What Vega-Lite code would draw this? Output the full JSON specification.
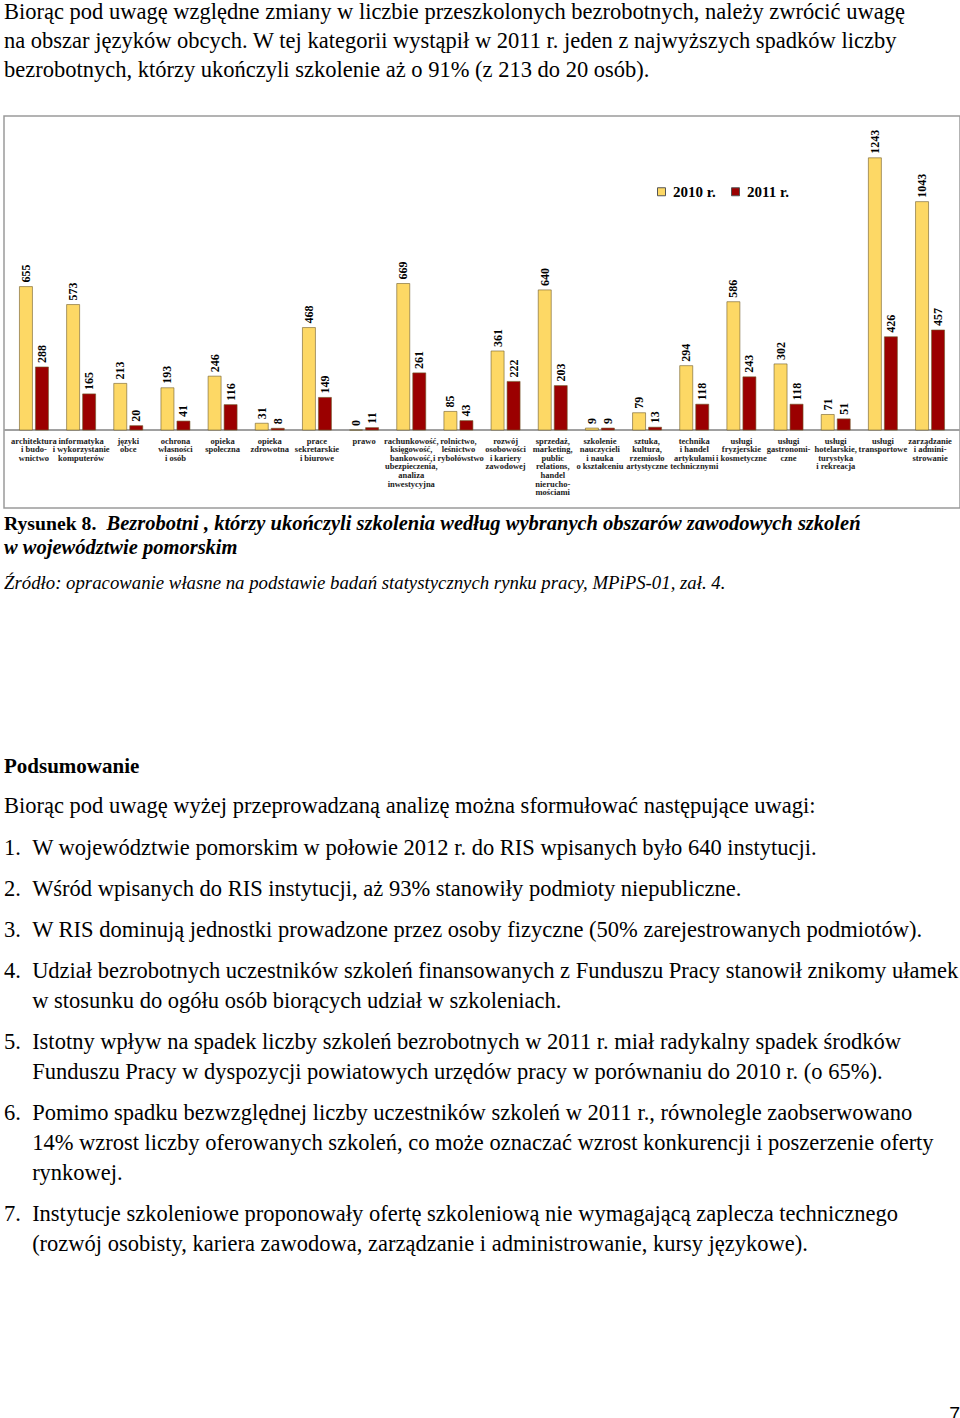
{
  "$schema": "https://vega.github.io/schema/vega-lite/v6.json",
  "padding": {"left": 2, "top": 0, "right": 0, "bottom": 0},
  "background": "white",
  "spacing": 0,
  "resolve": {"scale": {"xOffset": "independent", "color": "independent", "x": "independent", "y": "independent"}, "legend": {"color": "independent"}},
  "config": {
    "font": "Liberation Serif",
    "view": {"stroke": "#9a9a9a", "strokeWidth": 1.5},
    "title": {"font": "Liberation Serif", "color": "black", "anchor": "start", "frame": "group", "subtitleFont": "Liberation Serif", "subtitleColor": "black"}
  },
  "vconcat": [
    {
      "width": 956,
      "height": 392,
      "title": {
        "text": [
          "Biorąc pod uwagę względne zmiany w liczbie przeszkolonych bezrobotnych, należy zwrócić uwagę",
          "na obszar języków obcych. W tej kategorii wystąpił w 2011 r. jeden z najwyższych spadków liczby",
          "bezrobotnych, którzy ukończyli szkolenie aż o 91% (z 213 do 20 osób)."
        ],
        "orient": "top",
        "fontSize": 22.5,
        "fontWeight": "normal",
        "lineHeight": 29,
        "offset": 34.5
      },
      "data": {"values": [
        {"cat": "architektura i budownictwo", "rok": "2010 r.", "n": 655},
        {"cat": "architektura i budownictwo", "rok": "2011 r.", "n": 288},
        {"cat": "informatyka i wykorzystanie komputerów", "rok": "2010 r.", "n": 573},
        {"cat": "informatyka i wykorzystanie komputerów", "rok": "2011 r.", "n": 165},
        {"cat": "języki obce", "rok": "2010 r.", "n": 213},
        {"cat": "języki obce", "rok": "2011 r.", "n": 20},
        {"cat": "ochrona własności i osób", "rok": "2010 r.", "n": 193},
        {"cat": "ochrona własności i osób", "rok": "2011 r.", "n": 41},
        {"cat": "opieka społeczna", "rok": "2010 r.", "n": 246},
        {"cat": "opieka społeczna", "rok": "2011 r.", "n": 116},
        {"cat": "opieka zdrowotna", "rok": "2010 r.", "n": 31},
        {"cat": "opieka zdrowotna", "rok": "2011 r.", "n": 8},
        {"cat": "prace sekretarskie i biurowe", "rok": "2010 r.", "n": 468},
        {"cat": "prace sekretarskie i biurowe", "rok": "2011 r.", "n": 149},
        {"cat": "prawo", "rok": "2010 r.", "n": 0},
        {"cat": "prawo", "rok": "2011 r.", "n": 11},
        {"cat": "rachunkowość, księgowość, bankowość, ubezpieczenia, analiza inwestycyjna", "rok": "2010 r.", "n": 669},
        {"cat": "rachunkowość, księgowość, bankowość, ubezpieczenia, analiza inwestycyjna", "rok": "2011 r.", "n": 261},
        {"cat": "rolnictwo, leśnictwo i rybołówstwo", "rok": "2010 r.", "n": 85},
        {"cat": "rolnictwo, leśnictwo i rybołówstwo", "rok": "2011 r.", "n": 43},
        {"cat": "rozwój osobowości i kariery zawodowej", "rok": "2010 r.", "n": 361},
        {"cat": "rozwój osobowości i kariery zawodowej", "rok": "2011 r.", "n": 222},
        {"cat": "sprzedaż, marketing, public relations, handel nieruchomościami", "rok": "2010 r.", "n": 640},
        {"cat": "sprzedaż, marketing, public relations, handel nieruchomościami", "rok": "2011 r.", "n": 203},
        {"cat": "szkolenie nauczycieli i nauka o kształceniu", "rok": "2010 r.", "n": 9},
        {"cat": "szkolenie nauczycieli i nauka o kształceniu", "rok": "2011 r.", "n": 9},
        {"cat": "sztuka, kultura, rzemiosło artystyczne", "rok": "2010 r.", "n": 79},
        {"cat": "sztuka, kultura, rzemiosło artystyczne", "rok": "2011 r.", "n": 13},
        {"cat": "technika i handel artykułami technicznymi", "rok": "2010 r.", "n": 294},
        {"cat": "technika i handel artykułami technicznymi", "rok": "2011 r.", "n": 118},
        {"cat": "usługi fryzjerskie i kosmetyczne", "rok": "2010 r.", "n": 586},
        {"cat": "usługi fryzjerskie i kosmetyczne", "rok": "2011 r.", "n": 243},
        {"cat": "usługi gastronomiczne", "rok": "2010 r.", "n": 302},
        {"cat": "usługi gastronomiczne", "rok": "2011 r.", "n": 118},
        {"cat": "usługi hotelarskie, turystyka i rekreacja", "rok": "2010 r.", "n": 71},
        {"cat": "usługi hotelarskie, turystyka i rekreacja", "rok": "2011 r.", "n": 51},
        {"cat": "usługi transportowe", "rok": "2010 r.", "n": 1243},
        {"cat": "usługi transportowe", "rok": "2011 r.", "n": 426},
        {"cat": "zarządzanie i administrowanie", "rok": "2010 r.", "n": 1043},
        {"cat": "zarządzanie i administrowanie", "rok": "2011 r.", "n": 457}
      ]},
      "layer": [
        {
          "mark": {"type": "rule", "color": "#a0a0a0", "strokeWidth": 1},
          "encoding": {"y": {"datum": 0, "axis": null}}
        },
        {
          "mark": {"type": "bar", "stroke": "#6e5c2c", "strokeWidth": 0.6},
          "encoding": {
            "x": {
              "field": "cat", "type": "nominal", "axis": null,
              "scale": {
                "domain": [
                  "architektura i budownictwo", "informatyka i wykorzystanie komputerów", "języki obce", "ochrona własności i osób",
                  "opieka społeczna", "opieka zdrowotna", "prace sekretarskie i biurowe", "prawo",
                  "rachunkowość, księgowość, bankowość, ubezpieczenia, analiza inwestycyjna", "rolnictwo, leśnictwo i rybołówstwo",
                  "rozwój osobowości i kariery zawodowej", "sprzedaż, marketing, public relations, handel nieruchomościami",
                  "szkolenie nauczycieli i nauka o kształceniu", "sztuka, kultura, rzemiosło artystyczne",
                  "technika i handel artykułami technicznymi", "usługi fryzjerskie i kosmetyczne", "usługi gastronomiczne",
                  "usługi hotelarskie, turystyka i rekreacja", "usługi transportowe", "zarządzanie i administrowanie"
                ],
                "paddingInner": 0,
                "paddingOuter": 0.135
              }
            },
            "xOffset": {"field": "rok", "type": "nominal", "scale": {"paddingInner": 0.1875, "paddingOuter": 0.5675}},
            "y": {"field": "n", "type": "quantitative", "axis": null, "scale": {"domain": [-356, 1434], "nice": false}},
            "color": {
              "field": "rok", "type": "nominal",
              "scale": {"domain": ["2010 r.", "2011 r."], "range": ["#FDD865", "#9B0000"]},
              "legend": {
                "orient": "none", "legendX": 650, "legendY": 68, "direction": "horizontal", "title": null,
                "symbolType": "square", "symbolSize": 64, "symbolStrokeColor": "#555555", "symbolStrokeWidth": 1,
                "labelFont": "Liberation Serif", "labelFontSize": 15, "labelFontWeight": "bold", "labelColor": "black",
                "labelOffset": 4, "columnPadding": 12
              }
            }
          }
        },
        {
          "mark": {"type": "text", "angle": 270, "align": "left", "baseline": "middle", "dx": 4, "fontSize": 12, "fontWeight": "bold", "color": "black"},
          "encoding": {
            "x": {"field": "cat", "type": "nominal", "axis": null},
            "xOffset": {"field": "rok", "type": "nominal"},
            "y": {"field": "n", "type": "quantitative", "axis": null},
            "text": {"field": "n", "type": "nominal"}
          }
        },
        {
          "data": {"values": [
            {"cat": "architektura i budownictwo", "label": "architektura\ni budo-\nwnictwo"},
            {"cat": "informatyka i wykorzystanie komputerów", "label": "informatyka\ni wykorzystanie\nkomputerów"},
            {"cat": "języki obce", "label": "języki\nobce"},
            {"cat": "ochrona własności i osób", "label": "ochrona\nwłasności\ni osób"},
            {"cat": "opieka społeczna", "label": "opieka\nspołeczna"},
            {"cat": "opieka zdrowotna", "label": "opieka\nzdrowotna"},
            {"cat": "prace sekretarskie i biurowe", "label": "prace\nsekretarskie\ni biurowe"},
            {"cat": "prawo", "label": "prawo"},
            {"cat": "rachunkowość, księgowość, bankowość, ubezpieczenia, analiza inwestycyjna", "label": "rachunkowość,\nksięgowość,\nbankowość,\nubezpieczenia,\nanaliza\ninwestycyjna"},
            {"cat": "rolnictwo, leśnictwo i rybołówstwo", "label": "rolnictwo,\nleśnictwo\ni rybołówstwo"},
            {"cat": "rozwój osobowości i kariery zawodowej", "label": "rozwój\nosobowości\ni kariery\nzawodowej"},
            {"cat": "sprzedaż, marketing, public relations, handel nieruchomościami", "label": "sprzedaż,\nmarketing,\npublic\nrelations,\nhandel\nnierucho-\nmościami"},
            {"cat": "szkolenie nauczycieli i nauka o kształceniu", "label": "szkolenie\nnauczycieli\ni nauka\no kształceniu"},
            {"cat": "sztuka, kultura, rzemiosło artystyczne", "label": "sztuka,\nkultura,\nrzemiosło\nartystyczne"},
            {"cat": "technika i handel artykułami technicznymi", "label": "technika\ni handel\nartykułami\ntechnicznymi"},
            {"cat": "usługi fryzjerskie i kosmetyczne", "label": "usługi\nfryzjerskie\ni kosmetyczne"},
            {"cat": "usługi gastronomiczne", "label": "usługi\ngastronomi-\nczne"},
            {"cat": "usługi hotelarskie, turystyka i rekreacja", "label": "usługi\nhotelarskie,\nturystyka\ni rekreacja"},
            {"cat": "usługi transportowe", "label": "usługi\ntransportowe"},
            {"cat": "zarządzanie i administrowanie", "label": "zarządzanie\ni admini-\nstrowanie"}
          ]},
          "mark": {"type": "text", "baseline": "top", "align": "center", "dy": 6.6, "lineBreak": "\n", "fontSize": 8.5, "fontWeight": "bold", "lineHeight": 8.6, "color": "#222222"},
          "encoding": {
            "x": {"field": "cat", "type": "nominal", "axis": null},
            "y": {"datum": 0, "axis": null},
            "text": {"field": "label", "type": "nominal"}
          }
        }
      ]
    },
    {
      "width": 956, "height": 1,
      "view": {"stroke": null},
      "data": {"values": [{"t": ""}]},
      "mark": {"type": "text", "fontSize": 0},
      "encoding": {"text": {"field": "t", "type": "nominal"}},
      "title": {
        "text": "Rysunek 8.",
        "orient": "bottom", "offset": 4,
        "fontSize": 19.7, "fontWeight": "bold",
        "subtitle": [
          "\u200b\u00a0\u00a0\u00a0\u00a0\u00a0\u00a0\u00a0\u00a0\u00a0\u00a0\u00a0\u00a0\u00a0\u00a0\u00a0\u00a0\u00a0\u00a0\u00a0\u00a0Bezrobotni , którzy ukończyli szkolenia według wybranych obszarów zawodowych szkoleń",
          "w województwie pomorskim"
        ],
        "subtitleFontSize": 20.5, "subtitleFontStyle": "italic", "subtitleFontWeight": "bold",
        "subtitleLineHeight": 24, "subtitlePadding": -19.7
      }
    },
    {
      "width": 956, "height": 1,
      "view": {"stroke": null},
      "data": {"values": [{"t": ""}]},
      "mark": {"type": "text", "fontSize": 0},
      "encoding": {"text": {"field": "t", "type": "nominal"}},
      "title": {
        "text": "Źródło: opracowanie własne na podstawie badań statystycznych rynku pracy, MPiPS-01, zał. 4.",
        "orient": "bottom", "offset": 14,
        "fontSize": 18.8, "fontWeight": "normal", "fontStyle": "italic"
      }
    },
    {
      "width": 956, "height": 1,
      "view": {"stroke": null},
      "data": {"values": [{"t": ""}]},
      "mark": {"type": "text", "fontSize": 0},
      "encoding": {"text": {"field": "t", "type": "nominal"}},
      "title": {
        "text": "Podsumowanie",
        "orient": "bottom", "offset": 161.6,
        "fontSize": 21, "fontWeight": "bold",
        "subtitle": "Biorąc pod uwagę wyżej przeprowadzaną analizę można sformułować następujące uwagi:",
        "subtitleFontSize": 22.5, "subtitleFontWeight": "normal", "subtitlePadding": 18.3
      }
    },
    {
      "width": 956, "height": 1,
      "view": {"stroke": null},
      "data": {"values": [{"t": ""}]},
      "mark": {"type": "text", "fontSize": 0},
      "encoding": {"text": {"field": "t", "type": "nominal"}},
      "title": {
        "text": "1.\u00a0\u00a0W województwie pomorskim w połowie 2012 r. do RIS wpisanych było 640 instytucji.",
        "orient": "bottom", "offset": 17.5, "fontSize": 22.5, "fontWeight": "normal", "lineHeight": 30
      }
    },
    {
      "width": 956, "height": 1,
      "view": {"stroke": null},
      "data": {"values": [{"t": ""}]},
      "mark": {"type": "text", "fontSize": 0},
      "encoding": {"text": {"field": "t", "type": "nominal"}},
      "title": {
        "text": "2.\u00a0\u00a0Wśród wpisanych do RIS instytucji, aż 93% stanowiły podmioty niepubliczne.",
        "orient": "bottom", "offset": 17.5, "fontSize": 22.5, "fontWeight": "normal", "lineHeight": 30
      }
    },
    {
      "width": 956, "height": 1,
      "view": {"stroke": null},
      "data": {"values": [{"t": ""}]},
      "mark": {"type": "text", "fontSize": 0},
      "encoding": {"text": {"field": "t", "type": "nominal"}},
      "title": {
        "text": "3.\u00a0\u00a0W RIS dominują jednostki prowadzone przez osoby fizyczne (50% zarejestrowanych podmiotów).",
        "orient": "bottom", "offset": 17.5, "fontSize": 22.5, "fontWeight": "normal", "lineHeight": 30
      }
    },
    {
      "width": 956, "height": 1,
      "view": {"stroke": null},
      "data": {"values": [{"t": ""}]},
      "mark": {"type": "text", "fontSize": 0},
      "encoding": {"text": {"field": "t", "type": "nominal"}},
      "title": {
        "text": [
          "4.\u00a0\u00a0Udział bezrobotnych uczestników szkoleń finansowanych z Funduszu Pracy stanowił znikomy ułamek",
          "\u200b\u00a0\u00a0\u00a0\u00a0\u00a0w stosunku do ogółu osób biorących udział w szkoleniach."
        ],
        "orient": "bottom", "offset": 17.5, "fontSize": 22.5, "fontWeight": "normal", "lineHeight": 30
      }
    },
    {
      "width": 956, "height": 1,
      "view": {"stroke": null},
      "data": {"values": [{"t": ""}]},
      "mark": {"type": "text", "fontSize": 0},
      "encoding": {"text": {"field": "t", "type": "nominal"}},
      "title": {
        "text": [
          "5.\u00a0\u00a0Istotny wpływ na spadek liczby szkoleń bezrobotnych w 2011 r. miał radykalny spadek środków",
          "\u200b\u00a0\u00a0\u00a0\u00a0\u00a0Funduszu Pracy w dyspozycji powiatowych urzędów pracy w porównaniu do 2010 r. (o 65%)."
        ],
        "orient": "bottom", "offset": 17.5, "fontSize": 22.5, "fontWeight": "normal", "lineHeight": 30
      }
    },
    {
      "width": 956, "height": 1,
      "view": {"stroke": null},
      "data": {"values": [{"t": ""}]},
      "mark": {"type": "text", "fontSize": 0},
      "encoding": {"text": {"field": "t", "type": "nominal"}},
      "title": {
        "text": [
          "6.\u00a0\u00a0Pomimo spadku bezwzględnej liczby uczestników szkoleń w 2011 r., równolegle zaobserwowano",
          "\u200b\u00a0\u00a0\u00a0\u00a0\u00a014% wzrost liczby oferowanych szkoleń, co może oznaczać wzrost konkurencji i poszerzenie oferty",
          "\u200b\u00a0\u00a0\u00a0\u00a0\u00a0rynkowej."
        ],
        "orient": "bottom", "offset": 17.5, "fontSize": 22.5, "fontWeight": "normal", "lineHeight": 30
      }
    },
    {
      "width": 956, "height": 1,
      "view": {"stroke": null},
      "data": {"values": [{"t": ""}]},
      "mark": {"type": "text", "fontSize": 0},
      "encoding": {"text": {"field": "t", "type": "nominal"}},
      "title": {
        "text": [
          "7.\u00a0\u00a0Instytucje szkoleniowe proponowały ofertę szkoleniową nie wymagającą zaplecza technicznego",
          "\u200b\u00a0\u00a0\u00a0\u00a0\u00a0(rozwój osobisty, kariera zawodowa, zarządzanie i administrowanie, kursy językowe)."
        ],
        "orient": "bottom", "offset": 17.5, "fontSize": 22.5, "fontWeight": "normal", "lineHeight": 30
      }
    },
    {
      "width": 956, "height": 1,
      "view": {"stroke": null},
      "data": {"values": [{"t": ""}]},
      "mark": {"type": "text", "fontSize": 0},
      "encoding": {"text": {"field": "t", "type": "nominal"}},
      "title": {
        "text": "7",
        "orient": "bottom", "offset": 149.5, "anchor": "end",
        "font": "Liberation Sans", "fontSize": 19.5, "fontWeight": "normal"
      }
    }
  ]
}
